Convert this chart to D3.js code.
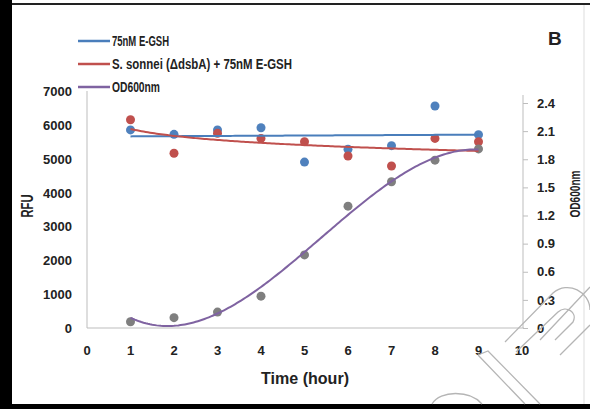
<!DOCTYPE html>
<html>
<head>
<meta charset="utf-8">
<script src="https://d3js.org/d3.v7.min.js"></script>
<style>
  body { margin: 0; background: #fff; }
  svg text { font-family: "Liberation Sans", Arial, sans-serif; font-weight: bold; fill: #222; }
</style>
</head>
<body>
<svg id="chart" width="590" height="409"></svg>
<script>
// time points (hour)
var hours = [1, 2, 3, 4, 5, 6, 7, 8, 9];
// RFU, 75nM E-GSH
var rfu_egsh = [5850, 5720, 5850, 5915, 4900, 5280, 5385, 6556, 5710];
// RFU, S. sonnei (dsbA) + 75nM E-GSH
var rfu_sonnei = [6150, 5160, 5750, 5600, 5500, 5080, 4785, 5600, 5500];
// OD600nm
var od600 = [0.067, 0.11, 0.17, 0.34, 0.78, 1.30, 1.56, 1.79, 1.91];

var x_ticks = [0, 1, 2, 3, 4, 5, 6, 7, 8, 9, 10];
var rfu_ticks = [0, 1000, 2000, 3000, 4000, 5000, 6000, 7000];
var od_ticks = [0, 0.3, 0.6, 0.9, 1.2, 1.5, 1.8, 2.1, 2.4];

var legend_names = ["75nM E-GSH", "S. sonnei (\u0394dsbA) + 75nM E-GSH", "OD600nm"];
var legend_widths = [57, 180, 48];
var legend_colors = ["#4a7ebb", "#c0504d", "#7f63a1"];

var svg = d3.select("#chart");

var x = d3.scaleLinear().domain([0, 10]).range([87, 522]);
var yL = d3.scaleLinear().domain([0, 7000]).range([328, 91]);
var yR = d3.scaleLinear().domain([0, 2.4]).range([328, 103]);

// frame of the scanned figure
svg.append("rect").attr("x", 0).attr("y", 0).attr("width", 12).attr("height", 409).attr("fill", "#000");
svg.append("rect").attr("x", 0).attr("y", 404).attr("width", 590).attr("height", 5).attr("fill", "#000");
svg.append("rect").attr("x", 12).attr("y", 3).attr("width", 578).attr("height", 2).attr("fill", "#222");
svg.append("line").attr("x1", 584).attr("x2", 584).attr("y1", 5).attr("y2", 404).attr("stroke", "#ddd");

// axes
var axisColor = "#bdbdbd";
svg.append("line").attr("x1", 87).attr("x2", 87).attr("y1", 91).attr("y2", 328).attr("stroke", axisColor);
svg.append("line").attr("x1", 87).attr("x2", 524).attr("y1", 328).attr("y2", 328).attr("stroke", axisColor);

var gR = svg.append("g").attr("transform", "translate(523,0)")
  .call(d3.axisRight(yR).tickValues(od_ticks).tickSize(5).tickPadding(9)
    .tickFormat(function (d) { return d === 0 ? "0" : d3.format(".1f")(d); }));
gR.select(".domain").attr("stroke", axisColor).attr("d", "M0,95V328");
gR.selectAll(".tick line").attr("stroke", axisColor);
gR.selectAll(".tick text").style("font-size", "13px").attr("fill", "#222");

svg.append("g").selectAll("text").data(rfu_ticks).join("text")
  .attr("x", 72).attr("y", function (d) { return yL(d) + 5; })
  .attr("text-anchor", "end").style("font-size", "13px")
  .text(function (d) { return d; });

svg.append("g").selectAll("text").data(x_ticks).join("text")
  .attr("x", function (d) { return x(d); }).attr("y", 355)
  .attr("text-anchor", "middle").style("font-size", "13px")
  .text(function (d) { return d; });

// axis titles
svg.append("text").attr("x", 305).attr("y", 384).attr("text-anchor", "middle")
  .style("font-size", "17px").attr("textLength", 88).attr("lengthAdjust", "spacingAndGlyphs")
  .text("Time (hour)");
svg.append("text").attr("transform", "translate(33,206) rotate(-90)").attr("text-anchor", "middle")
  .style("font-size", "16px").attr("textLength", 23).attr("lengthAdjust", "spacingAndGlyphs")
  .text("RFU");
svg.append("text").attr("transform", "translate(580,194) rotate(-90)").attr("text-anchor", "middle")
  .style("font-size", "15px").attr("textLength", 47).attr("lengthAdjust", "spacingAndGlyphs")
  .text("OD600nm");
svg.append("text").attr("x", 548).attr("y", 45).style("font-size", "19px").text("B");

// markers
function dots(vals, scale, color) {
  svg.append("g").selectAll("circle").data(hours).join("circle")
    .attr("cx", function (d) { return x(d); })
    .attr("cy", function (d, i) { return scale(vals[i]); })
    .attr("r", 4.5).attr("fill", color);
}
dots(rfu_egsh, yL, "#4f81bd");
dots(rfu_sonnei, yL, "#c0504d");
dots(od600, yR, "#7f7f7f");

// trendlines (least squares like excel)
function linfit(xs, ys) {
  var mx = d3.mean(xs), my = d3.mean(ys), sxy = 0, sxx = 0;
  xs.forEach(function (v, i) { sxy += (v - mx) * (ys[i] - my); sxx += (v - mx) * (v - mx); });
  var b = sxy / sxx;
  return [my - b * mx, b];
}
function polyfit(xs, ys, deg) {
  var n = deg + 1, A = [], i, j, k;
  for (i = 0; i < n; i++) {
    A.push([]);
    for (j = 0; j < n; j++) A[i].push(d3.sum(xs, function (v) { return Math.pow(v, i + j); }));
    A[i].push(d3.sum(xs, function (v, t) { return Math.pow(v, i) * ys[t]; }));
  }
  for (i = 0; i < n; i++) {
    for (k = i + 1; k < n; k++) {
      var f = A[k][i] / A[i][i];
      for (j = i; j <= n; j++) A[k][j] -= f * A[i][j];
    }
  }
  var c = new Array(n);
  for (i = n - 1; i >= 0; i--) {
    var s = A[i][n];
    for (j = i + 1; j < n; j++) s -= A[i][j] * c[j];
    c[i] = s / A[i][i];
  }
  return c;
}

var steps = d3.range(1, 9.001, 0.05);
var lineL = d3.line().x(function (d) { return x(d[0]); }).y(function (d) { return yL(d[1]); });
var lineR = d3.line().x(function (d) { return x(d[0]); }).y(function (d) { return yR(d[1]); });

var fb = linfit(hours, rfu_egsh);
svg.append("path").attr("d", lineL(steps.map(function (t) { return [t, fb[0] + fb[1] * t]; })))
  .attr("fill", "none").attr("stroke", legend_colors[0]).attr("stroke-width", 2);

var fr = linfit(hours.map(Math.log), rfu_sonnei);
svg.append("path").attr("d", lineL(steps.map(function (t) { return [t, fr[0] + fr[1] * Math.log(t)]; })))
  .attr("fill", "none").attr("stroke", legend_colors[1]).attr("stroke-width", 2);

var fp = polyfit(hours, od600, 3);
svg.append("path").attr("d", lineR(steps.map(function (t) {
    return [t, fp[0] + fp[1] * t + fp[2] * t * t + fp[3] * t * t * t];
  })))
  .attr("fill", "none").attr("stroke", legend_colors[2]).attr("stroke-width", 2);

// legend
var lg = svg.append("g").selectAll("g").data(legend_names).join("g")
  .attr("transform", function (d, i) { return "translate(78," + (41 + i * 23) + ")"; });
lg.append("line").attr("x1", 0).attr("x2", 32)
  .attr("stroke", function (d, i) { return legend_colors[i]; }).attr("stroke-width", 2.5);
lg.append("text").attr("x", 34).attr("y", 5).style("font-size", "14px")
  .attr("textLength", function (d, i) { return legend_widths[i]; })
  .attr("lengthAdjust", "spacingAndGlyphs")
  .text(function (d) { return d; });

// faint watermark outline
var wm = svg.append("g").attr("fill", "none").attr("stroke", "#b5b5b5").attr("stroke-width", 1.3);
wm.append("path").attr("d", "M478,355 L488,351 L540,404 M478,355 L525,404");
wm.append("path").attr("d", "M505,342 L553,293 C568,280 590,292 590,310 M516,352 L558,312 C566,305 578,312 573,322 L555,340");
wm.append("path").attr("d", "M540,340 L590,287 M560,355 L590,325");
wm.append("path").attr("d", "M432,404 C440,390 470,390 482,404");
</script>
</body>
</html>
